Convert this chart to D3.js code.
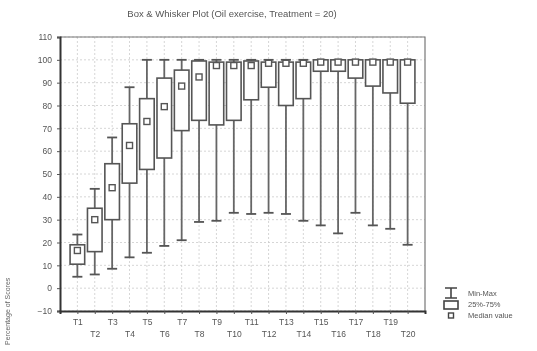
<!DOCTYPE html>
<html>
<head>
<meta charset="utf-8">
<script src="https://cdn.jsdelivr.net/npm/d3@7"></script>
<style>
  body { margin: 0; background: #fff; }
  svg { display: block; font-family: "Liberation Sans", Arial, sans-serif; filter: blur(0.4px); }
</style>
</head>
<body>
<svg id="chart" width="537" height="351"></svg>
<script>
// treatments and their five-number summaries (percent)
const cats = ["T1","T2","T3","T4","T5","T6","T7","T8","T9","T10",
              "T11","T12","T13","T14","T15","T16","T17","T18","T19","T20"];
const mins = [5, 6, 8.5, 13.5, 15.5, 18.5, 21, 29, 29.5, 33, 32.5, 33, 32.5, 29.5, 27.5, 24, 33, 27.5, 26, 19];
const q1s  = [10.5, 16, 30, 46, 52, 57, 69, 73.5, 71.5, 73.5, 82.5, 88, 80, 83, 95, 95, 92, 88.5, 85.5, 81];
const meds = [16.5, 30, 44, 62.5, 73, 79.5, 88.5, 92.5, 97.5, 97.5, 97.5, 98.5, 98.5, 98.5, 99, 99, 99, 99, 99, 99];
const q3s  = [19, 35, 54.5, 72, 83, 92, 95.5, 99.5, 99, 99, 99.5, 99, 99, 99, 100, 100, 100, 100, 100, 100];
const maxs = [23.5, 43.5, 66, 88, 100, 100, 100, 100, 100, 100, 100, 100, 100, 100, 100, 100, 100, 100, 100, 100];
const yTicks = [-10, 0, 10, 20, 30, 40, 50, 60, 70, 80, 90, 100, 110];
const legendLabels = ["Min-Max", "25%-75%", "Median value"];

const rows = cats.map((c, i) => ({
  name: c, idx: i + 1, min: mins[i], q1: q1s[i], med: meds[i], q3: q3s[i], max: maxs[i]
}));

const svg = d3.select("#chart");
const L = 60, R = 425, T = 37, B = 311;

const x = d3.scaleLinear().domain([0, cats.length + 1]).range([L, R]);
const y = d3.scaleLinear().domain([-10, 110]).range([B, T]);
const boxW = (x(1) - x(0)) * 0.84;

// title
svg.append("text")
  .attr("x", 232).attr("y", 17)
  .attr("text-anchor", "middle")
  .attr("font-size", 9.5).attr("fill", "#555")
  .text("Box & Whisker Plot (Oil exercise, Treatment = 20)");

// grid
const grid = svg.append("g").attr("stroke", "#ccc").attr("stroke-dasharray", "2,2").attr("stroke-width", 0.8);
grid.selectAll("line.h").data(yTicks).join("line")
  .attr("x1", L).attr("x2", R).attr("y1", d => y(d)).attr("y2", d => y(d));
grid.selectAll("line.v").data(rows).join("line")
  .attr("x1", d => x(d.idx)).attr("x2", d => x(d.idx)).attr("y1", T).attr("y2", B);

// frame top/right
svg.append("path")
  .attr("d", `M${L},${T}H${R}V${B}`)
  .attr("fill", "none").attr("stroke", "#777").attr("stroke-width", 1.2);

// whiskers
const g = svg.append("g");
g.selectAll("line.wh").data(rows).join("line")
  .attr("x1", d => x(d.idx)).attr("x2", d => x(d.idx))
  .attr("y1", d => y(d.min)).attr("y2", d => y(d.max))
  .attr("stroke", "#666").attr("stroke-width", 1.8);
g.selectAll("line.cmin").data(rows).join("line")
  .attr("x1", d => x(d.idx) - 5).attr("x2", d => x(d.idx) + 5)
  .attr("y1", d => y(d.min)).attr("y2", d => y(d.min))
  .attr("stroke", "#555").attr("stroke-width", 1.8);
g.selectAll("line.cmax").data(rows).join("line")
  .attr("x1", d => x(d.idx) - 5).attr("x2", d => x(d.idx) + 5)
  .attr("y1", d => y(d.max)).attr("y2", d => y(d.max))
  .attr("stroke", "#555").attr("stroke-width", 1.8);

// boxes
g.selectAll("rect.box").data(rows).join("rect")
  .attr("x", d => x(d.idx) - boxW / 2).attr("width", boxW)
  .attr("y", d => y(d.q3)).attr("height", d => y(d.q1) - y(d.q3))
  .attr("fill", "#fff").attr("stroke", "#555").attr("stroke-width", 1.6);

// medians
g.selectAll("rect.med").data(rows).join("rect")
  .attr("x", d => x(d.idx) - 3).attr("y", d => y(d.med) - 3)
  .attr("width", 6).attr("height", 6)
  .attr("fill", "#fff").attr("stroke", "#555").attr("stroke-width", 1.4);

// y axis
const yAxis = svg.append("g")
  .attr("transform", `translate(${L},0)`)
  .call(d3.axisLeft(y).tickValues(yTicks).tickSize(3).tickPadding(5));
yAxis.select(".domain").attr("stroke", "#333").attr("stroke-width", 2);
yAxis.selectAll("line").attr("stroke", "#555");
yAxis.selectAll("text").attr("font-size", 8.5).attr("fill", "#555").attr("font-family", null);

// x axis, labels staggered on two rows
const xAxis = svg.append("g")
  .attr("transform", `translate(0,${B})`)
  .call(d3.axisBottom(x).tickValues(d3.range(1, cats.length + 1))
        .tickSize(3).tickFormat(d => cats[d - 1]));
xAxis.select(".domain").attr("stroke", "#333").attr("stroke-width", 2);
xAxis.selectAll("line").attr("stroke", "#555");
xAxis.selectAll("text")
  .attr("font-size", 8.5).attr("fill", "#555").attr("font-family", null)
  .attr("y", d => d % 2 === 1 ? 8 : 20);

// y axis title
svg.append("text")
  .attr("transform", "translate(10,345) rotate(-90)")
  .attr("font-size", 7).attr("fill", "#666")
  .text("Percentage of Scores");

// legend
const lg = svg.append("g").attr("transform", "translate(443,0)");
lg.append("path").attr("d", "M2,288H14M8,288V298M2,298H14")
  .attr("fill", "none").attr("stroke", "#444").attr("stroke-width", 1.6);
lg.append("rect").attr("x", 1).attr("y", 301).attr("width", 14).attr("height", 8)
  .attr("fill", "#fff").attr("stroke", "#444").attr("stroke-width", 1.6);
lg.append("rect").attr("x", 5.5).attr("y", 313).attr("width", 5).attr("height", 5)
  .attr("fill", "#fff").attr("stroke", "#444").attr("stroke-width", 1.4);
lg.selectAll("text").data(legendLabels).join("text")
  .attr("x", 25).attr("y", (d, i) => 296 + i * 11)
  .attr("font-size", 7.5).attr("fill", "#555")
  .text(d => d);
</script>
</body>
</html>
